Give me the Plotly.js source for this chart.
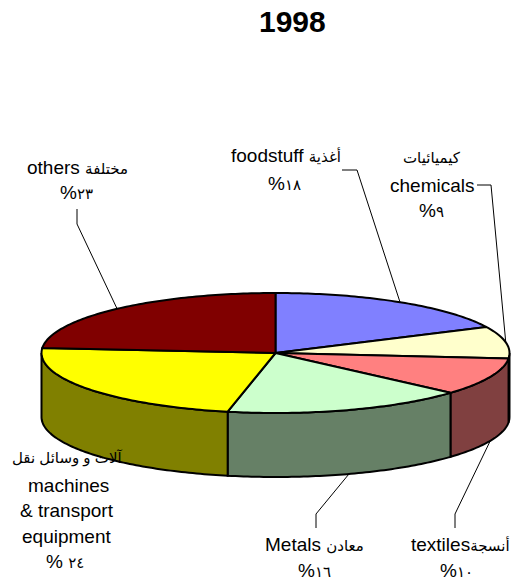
<!DOCTYPE html>
<html><head><meta charset="utf-8">
<script src="https://cdn.plot.ly/plotly-3.0.1.min.js"></script>
<style>html,body{margin:0;padding:0;background:#fff}#c{width:518px;height:582px}</style>
</head><body><div id="c"></div>
<script>
// ---- data ----
const categories = ["foodstuff","chemicals","textiles","Metals","machines & transport equipment","others"];
const shares = [18, 9, 10, 16, 24, 23];
const topColors = ["#8080FF","#FFFFCC","#FF8080","#CCFFCC","#FFFF00","#800000"];
const sideColors = ["#404080","#808066","#804040","#668066","#808000","#400000"];
const chartTitle = "1998";
const labelLines = [
  ["others مختلفة","%٢٣"],
  ["foodstuff أغذية","%١٨"],
  ["كيميائيات","chemicals","%٩"],
  ["آلات و وسائل نقل","machines","& transport","equipment","% ٢٤"],
  ["Metals معادن","%١٦"],
  ["textilesأنسجة","%١٠"]
];
// ---- layout constants (pixels on the 518x582 page) ----
const W=518,H=582,CX=275.5,CY=353,RX=234,RY=60,DEPTH=64;
// the original 3D renderer's projection moves each slice's end on the rim by a little (degrees)
const projectionNudge=[-0.5,-2,-1.6,1,-2.4,0];
const labelPos = [
  [[77,167],[76,193]],
  [[286,156],[284,183]],
  [[432,158],[432,185],[431,210]],
  [[67,458],[68,485],[67,510],[66,536],[65,561]],
  [[314,544],[314,570]],
  [[460,544],[456,570]]
];
const leaderOf = [ // slice index -> fixed elbow points in page pixels
  {i:5, pts:[[77,209],[77,224]]},
  {i:0, pts:[[342,170],[357,170]]},
  {i:1, pts:[[477,185],[491,185]]},
  {i:3, pts:[[316,528],[316,514]]},
  {i:2, pts:[[455,528],[455,514]]}
];
const ux=p=>(p-CX)/RX, uy=p=>(CY-p)/RX;
const tilt=RY/RX, depth=DEPTH/RX;
const ex=a=>Math.sin(a*Math.PI/180), ey=a=>tilt*Math.cos(a*Math.PI/180);

const total=shares.reduce((a,b)=>a+b,0);
let acc=0,prevEnd=0; const spans=shares.map((v,i)=>{acc+=v;const e=acc*360/total+projectionNudge[i];const r=[prevEnd,e];prevEnd=e;return r;});
const traces=[];
const base={type:'scatter',mode:'lines',fill:'toself',hoverinfo:'skip',showlegend:false,line:{color:'#000',width:2,simplify:false}};
function arc(a,b,dz){const o=[];const n=Math.max(2,Math.ceil(Math.abs(b-a)));for(let k=0;k<=n;k++){const t=a+(b-a)*k/n;o.push([ex(t),ey(t)-dz]);}return o;}
// sides: only the front half (90..270 deg) is visible
spans.forEach(([s,e],i)=>{
  const a=Math.max(s,90),b=Math.min(e,270);
  if(b<=a)return;
  const p=arc(a,b,0).concat(arc(b,a,depth)); p.push(p[0]);
  traces.push({...base,name:categories[i]+' side',x:p.map(q=>q[0]),y:p.map(q=>q[1]),fillcolor:sideColors[i]});
});
// tops
spans.forEach(([s,e],i)=>{
  const p=[[0,0]].concat(arc(s,e,0)); p.push([0,0]);
  traces.push({...base,name:categories[i],x:p.map(q=>q[0]),y:p.map(q=>q[1]),fillcolor:topColors[i]});
});
// leader lines: end on the rim at the middle of the slice
leaderOf.forEach(l=>{
  const m=(spans[l.i][0]+spans[l.i][1])/2;
  const front=m>90&&m<270;
  const xs=l.pts.map(q=>ux(q[0])).concat([ex(m)]);
  const ys=l.pts.map(q=>uy(q[1])).concat([ey(m)-(front?depth:0)]);
  traces.push({type:'scatter',mode:'lines',x:xs,y:ys,hoverinfo:'skip',showlegend:false,line:{color:'#000',width:1}});
});
const font={family:'"Liberation Sans", Arial, "DejaVu Sans", sans-serif',size:19,color:'#000'};
const arabicRuns=t=>t.replace(/[\u0600-\u06FF]+(\s+[\u0600-\u06FF]+)*/g,m=>'<span style="font-size:15px">'+m+'</span>');
const annotations=[{xref:'paper',yref:'paper',x:292.5/W,y:1-22/H,text:'<b>'+chartTitle+'</b>',showarrow:false,xanchor:'center',yanchor:'middle',font:{...font,size:30}}];
labelLines.forEach((ls,i)=>ls.forEach((t,j)=>{
  const [px,py]=labelPos[i][j];
  annotations.push({xref:'paper',yref:'paper',x:px/W,y:1-py/H,text:arabicRuns(t),showarrow:false,xanchor:'center',yanchor:'middle',font});
}));
const hidden={visible:false,fixedrange:true};
Plotly.newPlot('c',traces,{
  width:W,height:H,margin:{l:0,r:0,t:0,b:0},paper_bgcolor:'#fff',plot_bgcolor:'#fff',showlegend:false,
  xaxis:{...hidden,range:[ux(0),ux(W)]},
  yaxis:{...hidden,range:[uy(H),uy(0)]},
  annotations
},{displayModeBar:false,staticPlot:true});
</script></body></html>
